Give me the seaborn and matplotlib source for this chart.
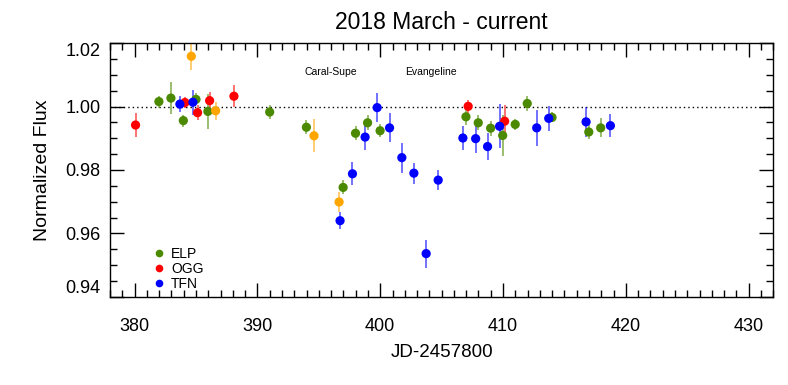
import numpy as np
import pandas as pd
import matplotlib
matplotlib.use("Agg")
import matplotlib.pyplot as plt
import seaborn as sns
from matplotlib.ticker import MultipleLocator

# ELP (green)
elp_jd = [381.98, 382.96, 383.97, 385.00, 385.97, 391.00, 393.99, 396.98, 397.99, 398.97,
          399.99, 406.98, 407.98, 408.99, 409.97, 410.99, 411.97, 413.99, 416.98, 417.95]
elp_flux = [1.0016, 1.0027, 0.9956, 1.0023, 0.9985, 0.9983, 0.9935, 0.9745, 0.9916, 0.9949,
            0.9924, 0.9968, 0.9949, 0.9932, 0.9909, 0.9944, 1.0010, 0.9966, 0.9920, 0.9933]
elp_err = [0.0019, 0.0050, 0.0019, 0.0019, 0.0054, 0.0021, 0.0022, 0.0022, 0.0022, 0.0024,
           0.0021, 0.0026, 0.0024, 0.0024, 0.0066, 0.0017, 0.0024, 0.0016, 0.0021, 0.0030]

# OGG (red)
ogg_jd = [380.08, 384.10, 385.13, 386.11, 388.09, 407.16, 410.13]
ogg_flux = [0.9942, 1.0013, 0.9981, 1.0019, 1.0033, 1.0001, 0.9954]
ogg_err = [0.0038, 0.0018, 0.0024, 0.0028, 0.0034, 0.0021, 0.0052]

# TFN (blue)
tfn_jd = [383.69, 384.75, 396.73, 397.74, 398.77, 399.75, 400.76, 401.76, 402.74, 403.74,
          404.72, 406.73, 407.77, 408.74, 409.72, 412.74, 413.72, 416.76, 418.74]
tfn_flux = [1.0008, 1.0014, 0.9640, 0.9788, 0.9904, 0.9997, 0.9933, 0.9839, 0.9790, 0.9536,
            0.9768, 0.9901, 0.9899, 0.9874, 0.9938, 0.9933, 0.9963, 0.9952, 0.9940]
tfn_err = [0.0025, 0.0040, 0.0026, 0.0036, 0.0040, 0.0046, 0.0046, 0.0047, 0.0033, 0.0044,
           0.0031, 0.0037, 0.0045, 0.0042, 0.0069, 0.0058, 0.0040, 0.0048, 0.0036]

# other site (orange, not in legend)
oth_jd = [384.62, 386.60, 394.61, 396.65]
oth_flux = [1.0159, 0.9987, 0.9908, 0.9699]
oth_err = [0.0042, 0.0029, 0.0052, 0.0032]

events = ["Caral-Supe", "Evangeline"]
event_jd = [396.0, 404.1]

yticks = [0.94, 0.96, 0.98, 1.00, 1.02]
xticks = [380, 390, 400, 410, 420, 430]

sites = ["ELP", "OGG", "TFN", "other"]
colors = {"ELP": "#4b8a00", "OGG": "#ff0000", "TFN": "#0000ff", "other": "#ffa500"}

df = pd.concat([
    pd.DataFrame({"jd": elp_jd, "flux": elp_flux, "err": elp_err, "site": "ELP"}),
    pd.DataFrame({"jd": ogg_jd, "flux": ogg_flux, "err": ogg_err, "site": "OGG"}),
    pd.DataFrame({"jd": tfn_jd, "flux": tfn_flux, "err": tfn_err, "site": "TFN"}),
    pd.DataFrame({"jd": oth_jd, "flux": oth_flux, "err": oth_err, "site": "other"}),
], ignore_index=True)

sns.set_style("ticks", {"text.color": "black", "axes.labelcolor": "black",
                        "xtick.color": "black", "ytick.color": "black",
                        "axes.edgecolor": "black"})
plt.rcParams["font.family"] = ["Liberation Sans", "DejaVu Sans"]

fig = plt.figure(figsize=(7.88, 3.85), dpi=100)
ax = fig.add_axes([0.1396, 0.2294, 0.8417, 0.6581])

# error bars first, lighter
for s in sites:
    d = df[df["site"] == s]
    ax.errorbar(d["jd"], d["flux"], yerr=d["err"], fmt="none", ecolor=colors[s],
                elinewidth=1.2, alpha=0.65, zorder=2)

sns.scatterplot(data=df, x="jd", y="flux", hue="site", hue_order=sites, palette=colors,
                s=44, edgecolor=None, linewidth=0, ax=ax, zorder=3, legend=False)

ax.axhline(1.0, color="black", linestyle=(0, (1, 2.2)), linewidth=1.0, zorder=1)

for name, x in zip(events, event_jd):
    ax.text(x, 1.0108, name, fontsize=7.5, ha="center", va="center")

# legend (only three sites)
handles = [plt.Line2D([], [], marker="o", linestyle="none", markersize=5.5,
                      markerfacecolor=colors[s], markeredgewidth=0) for s in sites[:3]]
ax.legend(handles, sites[:3], loc="upper left", bbox_to_anchor=(0.067, 0.198),
          frameon=False, fontsize=10, handlelength=0.6, handletextpad=0.6,
          labelspacing=0.1, borderpad=0, borderaxespad=0)

ax.set_xlim(378, 432)
ax.set_ylim(0.94, 1.02)
ax.set_xticks(xticks)
ax.set_xticklabels([str(v) for v in xticks])
ax.set_yticks(yticks)
ax.set_yticklabels([f"{v:.2f}" for v in yticks])
ax.xaxis.set_minor_locator(MultipleLocator(1))
ax.yaxis.set_minor_locator(MultipleLocator(0.005))
ax.tick_params(which="both", direction="in", top=True, right=True, width=1.0, color="black")
ax.tick_params(which="major", length=10, labelsize=13, pad=7)
ax.tick_params(which="minor", length=5)
ax.tick_params(axis="x", which="major", pad=15)

# end labels nudged inward like the original
ytl = ax.yaxis.get_major_ticks()
ytl[0].label1.set_va("bottom")
ytl[-1].label1.set_va("top")

for sp in ax.spines.values():
    sp.set_linewidth(1.0)

ax.set_xlabel("JD-2457800", fontsize=13.5, labelpad=7)
ax.set_ylabel("Normalized Flux", fontsize=14, labelpad=10)
ax.set_title("2018 March - current", fontsize=16.5, pad=10)

fig.savefig("out.png", dpi=100)
